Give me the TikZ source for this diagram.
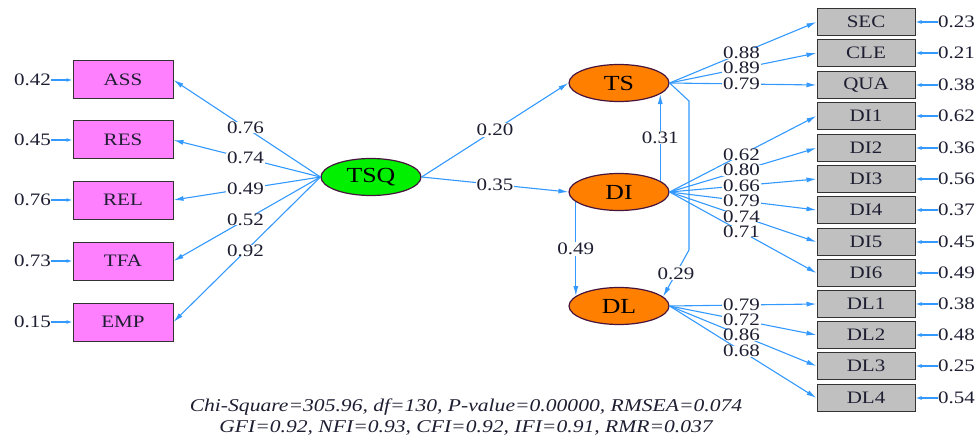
\documentclass[tikz,border=0pt]{standalone}
\usepackage{fontspec}
\setmainfont{Liberation Serif}[FakeStretch=1.2]
\usetikzlibrary{shapes.geometric,arrows.meta}
\definecolor{lblue}{RGB}{51,153,255}
\definecolor{pinkbox}{RGB}{255,128,255}
\definecolor{graybox}{RGB}{192,192,192}
\definecolor{orng}{RGB}{255,128,0}
\definecolor{grn}{RGB}{0,240,0}
\definecolor{eborder}{RGB}{70,20,60}
\definecolor{txt}{RGB}{30,30,50}
\tikzset{
  lbox/.style={draw=black!80, line width=1pt, fill=pinkbox, minimum width=100pt, minimum height=38pt, inner sep=0pt, font=\fontsize{17.5}{20}\selectfont, text=txt},
  rbox/.style={draw=black!80, line width=1pt, fill=graybox, minimum width=98pt, minimum height=27pt, inner sep=0pt, font=\fontsize{17.5}{20}\selectfont, text=txt},
  lat/.style={ellipse, draw=eborder, line width=1.2pt, minimum width=100pt, minimum height=37pt, inner sep=0pt, font=\fontsize{21.5}{24}\selectfont, text=black},
  errlab/.style={inner sep=0pt, font=\fontsize{17.5}{20}\selectfont, text=txt},
  path/.style={draw=lblue, line width=1.1pt, -{Latex[length=10pt,width=5pt]}},
  errpath/.style={draw=lblue, line width=1.2pt, -{Latex[length=6pt,width=4pt]}},
  coef/.style={fill=white, inner sep=1pt, font=\fontsize{17.5}{20}\selectfont, text=txt},
  coefs/.style={coef, inner xsep=1pt, inner ysep=0pt, text height=11pt, text depth=0pt},
}
\begin{document}
\begin{tikzpicture}[x=1pt,y=-1pt]
\useasboundingbox (0,0) rectangle (980,441);
% latent variables
\node[lat, fill=grn] (TSQ) at (371,177) {TSQ};
\node[lat, fill=orng] (TS) at (619,83) {TS};
\node[lat, fill=orng] (DI) at (619,192) {DI};
\node[lat, fill=orng] (DL) at (619,306) {DL};
% left indicators
\node[lbox] (ASS) at (123,80) {ASS};
\node[lbox] (RES) at (123,140) {RES};
\node[lbox] (REL) at (123,200) {REL};
\node[lbox] (TFA) at (123,261) {TFA};
\node[lbox] (EMP) at (123,322) {EMP};
\node[errlab, anchor=east] (eASS) at (51,80) {0.42};
\node[errlab, anchor=east] (eRES) at (51,140) {0.45};
\node[errlab, anchor=east] (eREL) at (51,200) {0.76};
\node[errlab, anchor=east] (eTFA) at (51,261) {0.73};
\node[errlab, anchor=east] (eEMP) at (51,322) {0.15};
\foreach \n in {ASS,RES,REL,TFA,EMP} \draw[errpath] (e\n) -- (\n);
\draw[path] (TSQ.west) -- node[coefs, pos=0.51] {0.76} (ASS.east);
\draw[path] (TSQ.west) -- node[coefs, pos=0.51] {0.74} (RES.east);
\draw[path] (TSQ.west) -- node[coefs, pos=0.51] {0.49} (REL.east);
\draw[path] (TSQ.west) -- node[coefs, pos=0.51] {0.52} (TFA.east);
\draw[path] (TSQ.west) -- node[coefs, pos=0.51] {0.92} (EMP.east);
% right indicators
\foreach \n/\y/\e in {SEC/22/0.23, CLE/53/0.21, QUA/85/0.38, DI1/116/0.62, DI2/148/0.36, DI3/179/0.56, DI4/210/0.37, DI5/242/0.45, DI6/273/0.49, DL1/304/0.38, DL2/335/0.48, DL3/366/0.25, DL4/398/0.54}{
  \node[rbox] (\n) at (866,\y) {\n};
  \node[errlab, anchor=west] (e\n) at (938,\y) {\e};
  \draw[errpath] (e\n) -- (\n);
}
\foreach \n/\c in {SEC/0.88, CLE/0.89, QUA/0.79}
  \draw[path] (TS.east) -- node[coefs, pos=0.49] {\c} (\n.west);
\foreach \n/\c in {DI1/0.62, DI2/0.80, DI3/0.66, DI4/0.79, DI5/0.74, DI6/0.71}
  \draw[path] (DI.east) -- node[coefs, pos=0.49] {\c} (\n.west);
\foreach \n/\c in {DL1/0.79, DL2/0.72, DL3/0.86, DL4/0.68}
  \draw[path] (DL.east) -- node[coefs, pos=0.49] {\c} (\n.west);
% structural paths
\draw[path] (TSQ.east) -- node[coef, pos=0.5] {0.20} (TS.west);
\draw[path] (TSQ.east) -- node[coef, pos=0.5] {0.35} (DI.west);
\draw[path] (DI.15) -- node[coef] {0.31} (DI.15 |- TS.-15);
\draw[path] (DI.-167) -- node[coef] {0.49} (DI.-167 |- DL.167);
\coordinate (k1) at (689,101);
\coordinate (k2) at (689,250);
\draw[path] (TS.east) -- (k1) -- (k2) -- node[coef, pos=0.5] {0.29} (DL.12);
% fit statistics
\node[font=\fontsize{18}{20}\selectfont\itshape, text=txt, inner sep=0pt] (fit1) at (466,407) {Chi-Square=305.96, df=130, P-value=0.00000, RMSEA=0.074};
\node[font=\fontsize{18}{20}\selectfont\itshape, text=txt, inner sep=0pt] (fit2) at (466,428) {GFI=0.92, NFI=0.93, CFI=0.92, IFI=0.91, RMR=0.037};
\end{tikzpicture}
\end{document}
